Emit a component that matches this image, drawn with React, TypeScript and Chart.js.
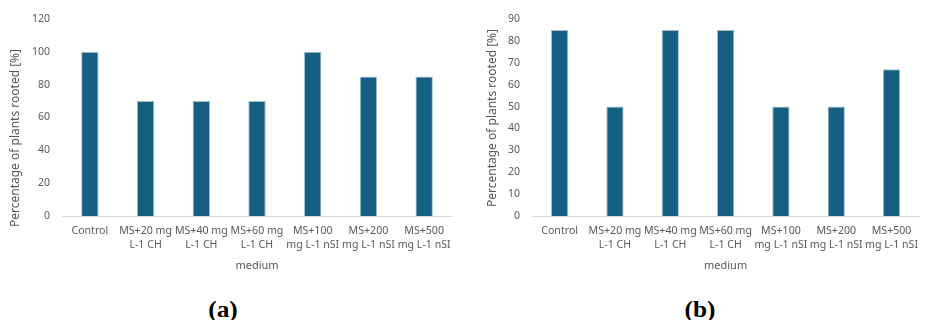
import React, { useEffect, useRef } from "react";
import { Chart, registerables } from "chart.js";

Chart.register(...registerables);

const categories: string[][] = [
  ["Control"],
  ["MS+20 mg", "L-1 CH"],
  ["MS+40 mg", "L-1 CH"],
  ["MS+60 mg", "L-1 CH"],
  ["MS+100", "mg L-1 nSI"],
  ["MS+200", "mg L-1 nSI"],
  ["MS+500", "mg L-1 nSI"],
];

const valuesA: number[] = [100, 70, 70, 70, 100, 85, 85];
const valuesB: number[] = [85, 50, 85, 85, 50, 50, 67];

const yTitle = "Percentage of plants rooted [%]";
const xTitle = "medium";
const panelLabels = ["(a)", "(b)"];

const TEXT = "#595959";
const BAR = "#156082";
const FONT = "'Noto Sans', 'Liberation Sans', Arial, sans-serif";

const yTitlePlugin = {
  id: "yTitleManual",
  afterDraw(chart: any, _args: any, opts: any) {
    const ctx = chart.ctx;
    ctx.save();
    ctx.translate(opts.x, opts.y);
    ctx.rotate(-Math.PI / 2);
    ctx.textAlign = "center";
    ctx.textBaseline = "middle";
    ctx.fillStyle = TEXT;
    ctx.font = `${opts.size}px ${FONT}`;
    ctx.fillText(opts.text, 0, 0);
    ctx.restore();
  },
};

function makeConfig(values: number[], max: number, step: number, padRight: number, titleX: number, titleY: number): any {
  return {
    type: "bar",
    data: {
      labels: categories,
      datasets: [
        {
          data: values,
          backgroundColor: BAR,
          borderColor: "#a3bfcf",
          borderWidth: 1,
          barPercentage: 0.313,
          categoryPercentage: 1,
        },
      ],
    },
    options: {
      animation: false,
      responsive: false,
      devicePixelRatio: 1,
      layout: { padding: { top: 19, left: 0, right: padRight, bottom: 0 } },
      plugins: {
        legend: { display: false },
        tooltip: { enabled: false },
        yTitleManual: { x: titleX, y: titleY, size: 12, text: yTitle },
      },
      scales: {
        x: {
          grid: { display: false, drawTicks: false },
          border: { display: true, color: "#d9d9d9", width: 1 },
          ticks: {
            color: TEXT,
            font: { family: FONT, size: 10.6, lineHeight: "14px" },
            padding: 8,
            maxRotation: 0,
            autoSkip: false,
          },
          title: {
            display: true,
            text: xTitle,
            color: TEXT,
            font: { family: FONT, size: 11 },
            padding: { top: 0, bottom: 13 },
          },
          afterFit(s: any) {
            s.height = 69;
          },
        },
        y: {
          min: 0,
          max,
          grid: { display: false, drawTicks: false },
          border: { display: false },
          ticks: {
            stepSize: step,
            color: TEXT,
            font: { family: FONT, size: 10.5 },
            padding: 12,
          },
          afterFit(s: any) {
            s.width = 62;
          },
        },
      },
    },
    plugins: [yTitlePlugin],
  };
}

export default function App() {
  const refA = useRef<HTMLCanvasElement>(null);
  const refB = useRef<HTMLCanvasElement>(null);

  useEffect(() => {
    const a = new Chart(refA.current!, makeConfig(valuesA, 120, 20, 18, 16, 138));
    const b = new Chart(refB.current!, makeConfig(valuesB, 90, 10, 0, 23, 118));
    return () => {
      a.destroy();
      b.destroy();
    };
  }, []);

  const labelStyle = (cx: number): React.CSSProperties => ({
    position: "absolute",
    left: cx - 50,
    width: 100,
    top: 298,
    textAlign: "center",
    fontFamily: "'Liberation Serif', 'Times New Roman', serif",
    fontWeight: "bold",
    fontSize: 23,
    lineHeight: "23px",
    color: "#000",
    transform: "scaleX(1.1)",
  });

  return (
    <div style={{ position: "fixed", left: 0, top: 0, width: 926, height: 320, background: "#fff", overflow: "hidden" }}>
      <canvas ref={refA} width={470} height={285} style={{ position: "absolute", left: 0, top: 0 }} />
      <canvas ref={refB} width={456} height={285} style={{ position: "absolute", left: 470, top: 0 }} />
      <div style={labelStyle(223)}>{panelLabels[0]}</div>
      <div style={labelStyle(700)}>{panelLabels[1]}</div>
    </div>
  );
}
